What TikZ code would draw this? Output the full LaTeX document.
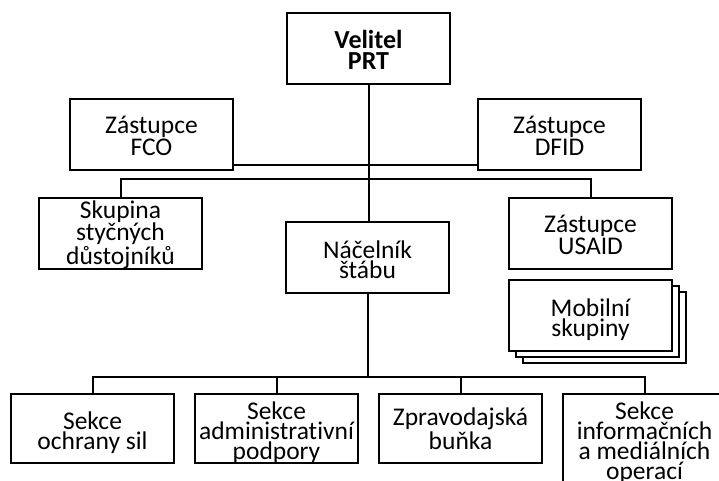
\documentclass[tikz,border=0pt]{standalone}
\usepackage{fontspec}
\setmainfont{Carlito}[Ligatures=NoCommon]
\begin{document}
\begin{tikzpicture}[x=1pt,y=-1pt,
  box/.style={draw=black, line width=2pt, fill=white, rectangle, inner sep=0pt,
    minimum width=163pt, minimum height=71pt, anchor=north west,
    align=center, font=\fontsize{25.5}{20}\selectfont,
    text height=45pt, text depth=4pt},
  three/.style={text height=65pt},
  four/.style={text height=85pt},
  bigbox/.style={box, font=\bfseries\fontsize{26}{21}\selectfont, text height=46pt},
  conn/.style={draw=black, line width=2pt, line join=miter}]
\useasboundingbox (0,0) rectangle (719,480);
\clip (0,0) rectangle (719,480);
% boxes
\node[bigbox] (vel) at (286,12) {Velitel\\PRT};
\node[box] (fco) at (69,98) {Zástupce\\FCO};
\node[box] (dfid) at (477,98) {Zástupce\\DFID};
\node[box, three] (sku) at (38,197) {Skupina\\styčných\\důstojníků};
\node[box] (nac) at (285,221) {Náčelník\\štábu};
\node[box] (usaid) at (508,197) {Zástupce\\USAID};
\node[box] (mob3) at (522,291) {};
\node[box] (mob2) at (515,285) {};
\node[box] (mob) at (508,279) {Mobilní\\skupiny};
\node[box, minimum height=69pt] (sec1) at (10,393) {Sekce\\ochrany sil};
\node[box, three, minimum height=69pt] (sec2) at (194,393) {Sekce\\administrativní\\podpory};
\node[box, minimum height=69pt] (sec3) at (378,393) {Zpravodajská\\buňka};
\node[box, four, minimum height=90pt] (sec4) at (562,393) {Sekce\\informačních\\a mediálních\\operací};
% connectors
\coordinate (fl) at (0,165);
\coordinate (busA) at (0,179);
\coordinate (busB) at (0,377);
\draw[conn] (vel.south) -- (vel.south |- nac.north);
\draw[conn] (fco.east |- fl) -- (dfid.west |- fl);
\draw[conn] (sku.north) -- (sku.north |- busA) -- (usaid.north |- busA) -- (usaid.north);
\draw[conn] (nac.south) -- (nac.south |- busB);
\draw[conn] (sec1.north) -- (sec1.north |- busB) -- (sec4.north |- busB) -- (sec4.north);
\draw[conn] (sec2.north) -- (sec2.north |- busB);
\draw[conn] (sec3.north) -- (sec3.north |- busB);
\end{tikzpicture}
\end{document}
